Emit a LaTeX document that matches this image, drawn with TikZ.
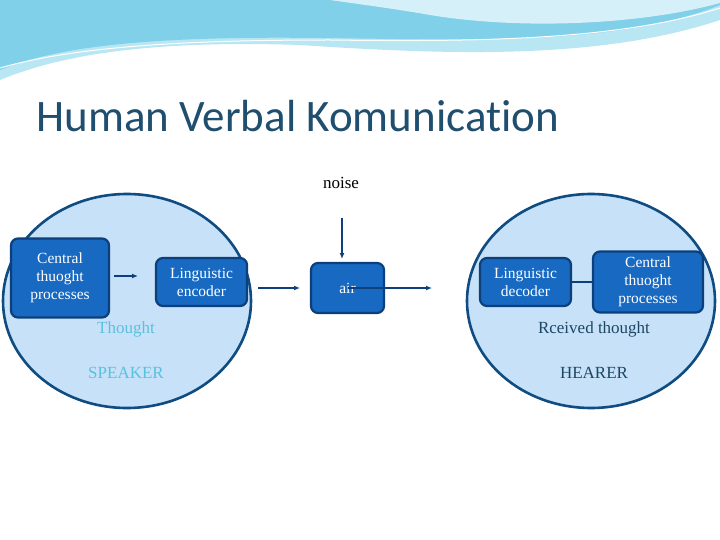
\documentclass[tikz,border=0pt]{standalone}
\usepackage{fontspec}
\setmainfont{Liberation Serif}
\newfontfamily\titlefont[Ligatures={NoCommon,NoRare}]{Carlito}
\usetikzlibrary{arrows.meta,shapes.geometric}
\definecolor{nodefill}{HTML}{1769C2}
\definecolor{nodeedge}{HTML}{0D3F7A}
\definecolor{circfill}{HTML}{C7E1F8}
\definecolor{circedge}{HTML}{0F4C82}
\definecolor{titlecol}{HTML}{1F4E6E}
\definecolor{lightcyan}{HTML}{5BC0DE}
\definecolor{wave1}{HTML}{7FD0E8}
\definecolor{wave2}{HTML}{B9E6F3}
\tikzset{
  proc/.style={draw=nodeedge, line width=2.2pt, fill=nodefill, rounded corners=7pt, text=white, align=center, inner sep=2pt, font=\fontsize{15.5}{18}\selectfont},
  party/.style={draw=circedge, line width=2.6pt, fill=circfill},
  conn/.style={draw=nodeedge, line width=1.6pt, -{Latex[length=6pt,width=5pt]}},
  lbl/.style={font=\fontsize{17}{19}\selectfont}
}
\begin{document}
\begin{tikzpicture}[x=1pt,y=1pt]
\useasboundingbox (0,0) rectangle (720,-540);
\fill[white] (0,0) rectangle (720,-540);
% header waves
\fill[wave2] (0,0) -- (720,0) -- (720,-20) .. controls (600,-60) and (450,-55) .. (300,-45) .. controls (150,-40) and (60,-55) .. (0,-80) -- cycle;
\fill[wave1] (0,0) -- (720,0) -- (720,-5) .. controls (620,-45) and (480,-40) .. (320,-38) .. controls (160,-36) and (60,-45) .. (0,-70) -- cycle;
\fill[wave2!60] (330,0) -- (720,0) -- (720,-3) .. controls (640,-25) and (520,-30) .. (430,-15) .. controls (390,-8) and (350,-3) .. (330,0) -- cycle;
\draw[white, line width=1pt] (0,-68) .. controls (80,-45) and (200,-40) .. (330,-40) .. controls (480,-42) and (620,-40) .. (720,-8);
% title
\node[anchor=west, text=titlecol, font=\titlefont\fontsize{45}{48}\selectfont] (title) at (33,-116) {Human Verbal Komunication};
% circles
\node[party, ellipse, minimum width=248pt, minimum height=214pt, inner sep=0pt] (speaker) at (127,-301) {};
\node[party, ellipse, minimum width=248pt, minimum height=214pt, inner sep=0pt] (hearer) at (591,-301) {};
% nodes
\node[proc, minimum width=98pt, minimum height=79pt] (ctl) at (60,-278) {Central\\thuoght\\processes};
\node[proc, minimum width=91pt, minimum height=48pt] (enc) at (201.5,-282) {Linguistic\\encoder};
\node[proc, minimum width=73pt, minimum height=50pt] (air) at (347.5,-288) {air};
\node[proc, minimum width=91pt, minimum height=48pt] (dec) at (525.5,-282) {Linguistic\\decoder};
\node[proc, minimum width=110pt, minimum height=61pt] (ctr) at (648,-282) {Central\\thuoght\\processes};
% labels
\node[lbl] (noise) at (341,-183) {noise};
\node[lbl, text=lightcyan] (thought) at (126,-329) {Thought};
\node[lbl, text=lightcyan] (speak) at (126,-373) {SPEAKER};
\node[lbl, text=titlecol!90!black] (rcv) at (594,-329) {Rceived thought};
\node[lbl, text=titlecol!90!black] (hear) at (594,-373) {HEARER};
% connectors
\coordinate (nz) at (342,-218);
\coordinate (nzend) at (342,-259);
\coordinate (airout) at (432,-288);
\coordinate (c1) at (114,-276);
\coordinate (c2) at (138,-276);
\coordinate (e1) at (258,-288);
\coordinate (e2) at (300,-288);
\draw[conn] (nz) -- (nzend);
\draw[conn] (c1) -- (c2);
\draw[conn] (e1) -- (e2);
\draw[conn] (air.center) -- (airout);
\draw[nodeedge, line width=1.6pt] (dec.east) -- (ctr.west);
\end{tikzpicture}
\end{document}
